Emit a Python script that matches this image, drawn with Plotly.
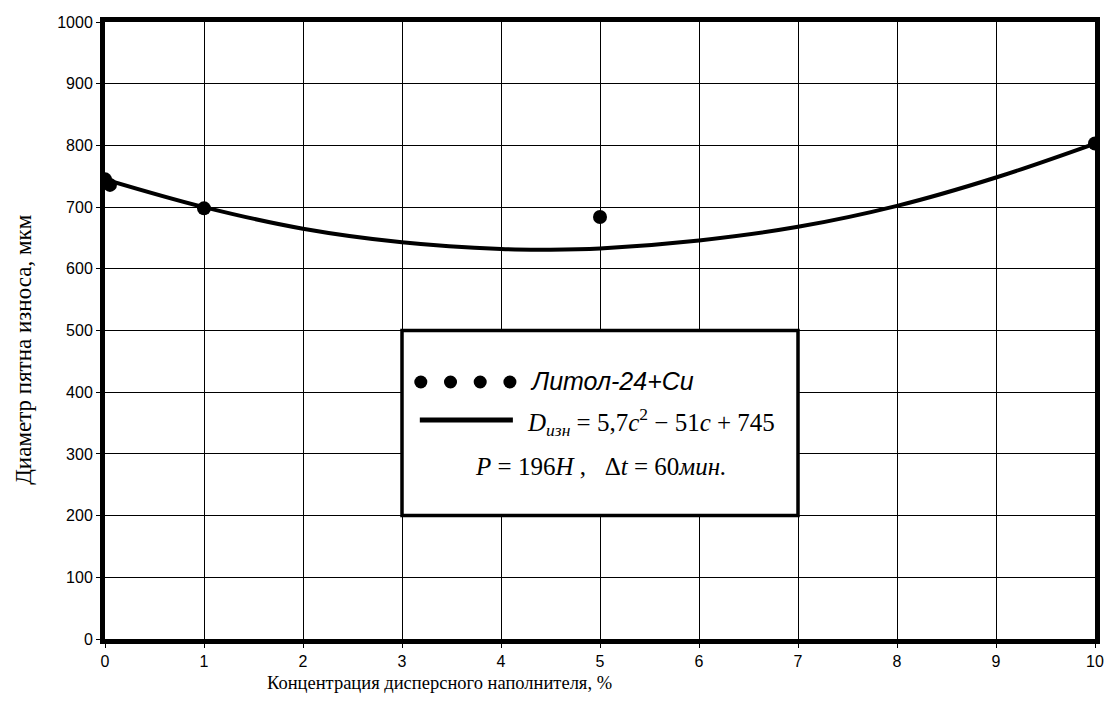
import plotly.graph_objects as go

# experimental points
conc_pts = [0, 0.05, 1, 5, 10]
diam_pts = [745, 736, 698, 684, 803]

# fitted curve values
conc_curve = [0, 1, 2, 3, 4, 4.5, 5, 6, 7, 8, 9, 10]
diam_curve = [745, 700, 665, 643, 632, 631, 633, 646, 668, 702, 748, 803]

x_ticks = list(range(0, 11))
y_ticks = list(range(0, 1001, 100))

legend_series = "Литол-24+Cu"
legend_eq = "<i>D</i><sub><i>изн</i></sub> = 5,7<i>c</i><sup>2</sup> − 51<i>c</i> + 745"
legend_cond = "<i>P</i> = 196<i>H</i> ,   Δ<i>t</i> = 60<i>мин.</i>"
x_title = "Концентрация дисперсного наполнителя, %"
y_title = "Диаметр пятна износа, мкм"

# screen geometry of the plot area (page pixels), with a small horizontal calibration
PL, PR, PT, PB = 105, 1104, 22, 639
W, H = 1108, 715


def px2x(px):
    return (px - PL) / (PR - PL) * 10


def py2y(py):
    return (PB - py) / (PB - PT) * 1000


fig = go.Figure()
fig.add_trace(go.Scatter(x=conc_curve, y=diam_curve, mode="lines",
                         line=dict(color="black", width=4, shape="spline", smoothing=1.0),
                         showlegend=False, hoverinfo="skip"))
fig.add_trace(go.Scatter(x=conc_pts, y=diam_pts, mode="markers",
                         marker=dict(color="black", size=14),
                         showlegend=False))

serif = "Liberation Serif"
sans = "Liberation Sans"

# legend box
fig.add_shape(type="rect", x0=3, x1=7, y0=200, y1=500, xref="x", yref="y",
              line=dict(color="black", width=3.5), fillcolor="white", layer="above")
# legend dots (positions given in data units of the box)
r_x = 0.066
r_y = 10.5
for cx in [3.19, 3.49, 3.79, 4.09]:
    cy = py2y(382)
    fig.add_shape(type="circle", xref="x", yref="y", x0=cx - r_x, x1=cx + r_x,
                  y0=cy - r_y, y1=cy + r_y, fillcolor="black", line=dict(color="black", width=0),
                  layer="above")
fig.add_shape(type="line", xref="x", yref="y", x0=3.18, x1=4.12, y0=py2y(420), y1=py2y(420),
              line=dict(color="black", width=5), layer="above")

fig.add_annotation(x=4.27, y=py2y(381), xref="x", yref="y", text="<i>" + legend_series + "</i>",
                   showarrow=False, xanchor="left", yanchor="middle",
                   font=dict(family=sans, size=25, color="black"))
fig.add_annotation(x=4.24, y=py2y(422), xref="x", yref="y", text=legend_eq,
                   showarrow=False, xanchor="left", yanchor="middle",
                   font=dict(family=serif, size=25, color="black"))
fig.add_annotation(x=5.0, y=py2y(466), xref="x", yref="y", text=legend_cond,
                   showarrow=False, xanchor="center", yanchor="middle",
                   font=dict(family=serif, size=25, color="black"))

# axis titles
fig.add_annotation(x=0.338, y=(PB - 683) / (PB - PT), xref="paper", yref="paper",
                   text=x_title, showarrow=False, xanchor="center", yanchor="middle",
                   font=dict(family=serif, size=18.5, color="black"))
fig.add_annotation(x=-0.083, y=(PB - 350) / (PB - PT), xref="paper", yref="paper",
                   text=y_title, showarrow=False, textangle=-90, xanchor="center", yanchor="middle",
                   font=dict(family=serif, size=23, color="black"))

axis_common = dict(showgrid=True, gridcolor="black", gridwidth=1, zeroline=False,
                   showline=True, linecolor="black", linewidth=5, mirror=True,
                   ticks="outside", ticklen=4, tickcolor="black",
                   tickfont=dict(family=sans, size=16, color="black"))
fig.update_xaxes(range=[0, 10], tickvals=x_ticks, **axis_common)
fig.update_yaxes(range=[0, 1000], tickvals=y_ticks, **axis_common)

fig.update_layout(width=W, height=H,
                  margin=dict(l=PL, r=W - PR, t=PT, b=H - PB),
                  plot_bgcolor="white", paper_bgcolor="white")

# remove the default page margin so the figure fills the window exactly
page_fix = ("document.documentElement.style.margin='0';document.documentElement.style.padding='0';"
            "document.documentElement.style.overflow='hidden';"
            "document.body.style.margin='0';document.body.style.padding='0';"
            "document.body.style.overflow='hidden';")
fig.write_html("out.html", post_script=page_fix, config={"displayModeBar": False})
